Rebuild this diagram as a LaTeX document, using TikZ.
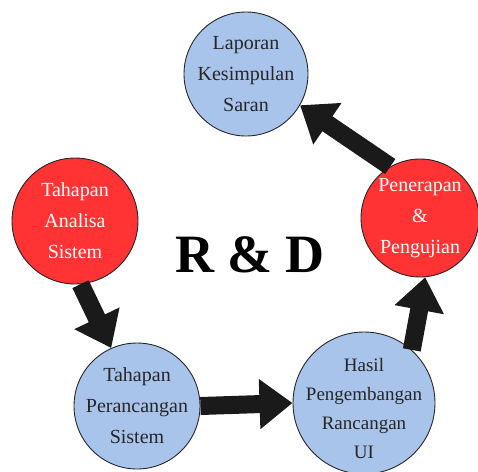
\documentclass[tikz,border=0pt]{standalone}
\usepackage{fontspec}
\setmainfont{Liberation Serif}
\usetikzlibrary{arrows.meta}
\definecolor{cblue}{HTML}{A9C4EB}
\definecolor{cred}{HTML}{FF3333}
\definecolor{carrow}{HTML}{1A1A1A}
\tikzset{
  stage/.style={circle, draw=black!85, line width=0.9pt, inner sep=0pt},
  bluestage/.style={stage, fill=cblue},
  redstage/.style={stage, fill=cred},
  bluetext/.style={align=center, inner sep=0pt, text=black!85, font=\fontsize{20}{31}\selectfont},
  redtext/.style={align=center, inner sep=0pt, text=white, font=\fontsize{20}{31}\selectfont},
  bigarrow/.style={draw=carrow, line width=18pt, -{Triangle[length=33pt,width=48pt]}}
}
\begin{document}
\begin{tikzpicture}[x=1pt,y=-1pt]
\useasboundingbox (0,0) rectangle (478,471);
\clip (0,0) rectangle (478,471);
\node[bluestage, minimum size=124pt, label={[bluetext]center:Laporan\\Kesimpulan\\Saran}] (lap) at (246,74) {};
\node[redstage, minimum size=126pt, label={[redtext]center:Tahapan\\Analisa\\Sistem}] (ana) at (75,221) {};
\node[redstage, minimum size=118pt, label={[redtext]center:Penerapan\\\&\\Pengujian}] (pen) at (420,218) {};
\node[bluestage, minimum size=142pt, label={[bluetext, font=\fontsize{19}{29}\selectfont, yshift=-5pt]center:Hasil\\Pengembangan\\Rancangan\\UI}] (has) at (364,403) {};
\node[bluestage, minimum size=126pt, label={[bluetext]center:Tahapan\\Perancangan\\Sistem}] (per) at (137,406) {};
\node[font=\fontsize{54}{60}\selectfont\bfseries] (rd) at (250,255) {R \& D};
\draw[bigarrow] (ana.-85) -- (per.114);
\draw[bigarrow] (per.0) -- (has.180);
\draw[bigarrow] (has.48) -- (pen.-85);
\draw[bigarrow] (pen.120) -- (lap.-30);
\end{tikzpicture}
\end{document}
